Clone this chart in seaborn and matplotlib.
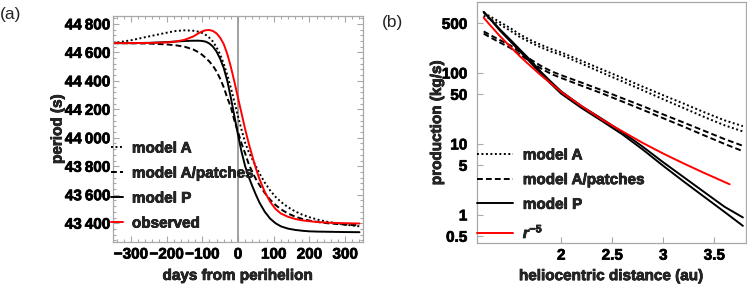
import matplotlib
matplotlib.use('Agg')
import matplotlib.pyplot as plt
import matplotlib.ticker as mticker
import matplotlib.patheffects as pe
from matplotlib.text import Text
import seaborn as sns

# ---- panel (a): rotation period vs days from perihelion ----
days = [-350, -300, -250, -200, -175, -150, -125, -110, -100, -90, -80, -70, -60,
        -50, -40, -30, -20, -10, 0, 10, 20, 30, 40, 50, 60, 75, 90, 105, 120,
        140, 160, 180, 200, 225, 250, 300, 340]

period_model_a = [44665, 44685, 44712, 44738, 44750, 44755, 44752, 44745, 44736, 44722,
                  44702, 44675, 44635, 44585, 44520, 44440, 44350, 44250, 44150, 44055,
                  43965, 43900, 43850, 43800, 43750, 43685, 43630, 43585, 43550, 43512,
                  43483, 43460, 43442, 43424, 43410, 43390, 43378]
period_model_a_patches = [44665, 44664, 44662, 44656, 44650, 44640, 44620, 44600, 44582,
                          44560, 44535, 44505, 44465, 44415, 44355, 44280, 44215, 44120,
                          44040, 43960, 43890, 43815, 43760, 43710, 43668, 43612, 43565,
                          43528, 43498, 43468, 43446, 43430, 43418, 43408, 43400, 43390,
                          43385]
period_model_p = [44665, 44665, 44667, 44672, 44676, 44680, 44682, 44682, 44680, 44675,
                  44662, 44640, 44605, 44555, 44490, 44400, 44280, 44150, 44020, 43900,
                  43800, 43725, 43660, 43600, 43545, 43480, 43432, 43400, 43378, 43362,
                  43353, 43347, 43343, 43341, 43340, 43338, 43337]
period_observed = [44665, 44665, 44666, 44670, 44676, 44688, 44712, 44735, 44748, 44756,
                   44757, 44750, 44733, 44703, 44658, 44588, 44497, 44392, 44280, 44170,
                   44060, 43960, 43870, 43785, 43710, 43620, 43550, 43500, 43468, 43445,
                   43430, 43420, 43414, 43408, 43404, 43400, 43398]

period_ticks = [43400, 43600, 43800, 44000, 44200, 44400, 44600, 44800]
day_ticks = [-300, -200, -100, 0, 100, 200, 300]

# ---- panel (b): production vs heliocentric distance (two branches per model) ----
r_model = [1.24, 1.3, 1.4, 1.5, 1.6, 1.7, 1.8, 1.9, 2.0, 2.2, 2.4, 2.6, 2.8, 3.0,
           3.2, 3.4, 3.6, 3.78]
prod_a_1 = [700, 630, 520, 430, 345, 290, 250, 218, 195, 148, 112, 85, 64, 48.5,
            37, 28, 21.5, 17.8]
prod_a_2 = [640, 580, 480, 395, 318, 268, 230, 200, 180, 135, 101, 76, 57, 42.5,
            32, 24, 18.3, 15.0]
prod_ap_1 = [385, 345, 290, 245, 195, 155, 126, 106, 93, 73, 57, 44, 34, 26,
             20, 15.3, 11.7, 9.4]
prod_ap_2 = [358, 320, 268, 226, 180, 143, 116, 97, 85, 66, 51.5, 39.5, 30.2, 23,
             17.5, 13.2, 10.0, 7.9]
prod_p_1 = [725, 590, 410, 295, 210, 150, 104, 75, 55, 34, 22.5, 14.6, 9.1, 5.5,
            3.4, 2.1, 1.3, 0.92]
prod_p_2 = [725, 580, 395, 280, 198, 140, 97, 70, 51, 32, 21, 13.6, 8.3, 4.9,
            2.95, 1.8, 1.1, 0.70]
r_power = [1.24, 1.3, 1.4, 1.5, 1.6, 1.7, 1.8, 1.9, 2.0, 2.2, 2.4, 2.6, 2.8, 3.0,
           3.2, 3.4, 3.65]
prod_power = [603, 477, 330, 235, 169, 125, 93, 71, 54, 34, 22, 15, 10.3, 7.3,
              5.3, 3.9, 2.7]

prod_ticks = [0.5, 1, 5, 10, 50, 100, 500]
prod_labels = ['0.5', '1', '5', '10', '50', '100', '500']
r_ticks = [2, 2.5, 3, 3.5]
r_labels = ['2', '2.5', '3', '3.5']

sns.set_theme(style='ticks')
plt.rcParams['font.family'] = ['Liberation Sans', 'DejaVu Sans']
plt.rcParams['font.weight'] = 'bold'
plt.rcParams['mathtext.fontset'] = 'custom'
plt.rcParams['mathtext.it'] = 'Liberation Sans:bold:italic'
plt.rcParams['mathtext.rm'] = 'Liberation Sans:bold'

FS = 11
FRAME = '#a8a8a8'
DOT = (0, (1, 1.3))
DASH = (0, (3, 1.6))
LW = 1.4

fig = plt.figure(figsize=(7.47, 2.86), dpi=100)
ax1 = fig.add_axes([0.1513, 0.1538, 0.3347, 0.790])
ax2 = fig.add_axes([0.6386, 0.150, 0.3600, 0.843])

# panel (a)
ax1.axvline(0, color='#9a9a9a', lw=1.3, zorder=1)
sns.lineplot(x=days, y=period_model_a, ax=ax1, color='black', lw=LW, linestyle=DOT,
             label='model A', legend=False)
sns.lineplot(x=days, y=period_model_a_patches, ax=ax1, color='black', lw=LW,
             linestyle=DASH, label='model A/patches', legend=False)
sns.lineplot(x=days, y=period_model_p, ax=ax1, color='black', lw=LW, linestyle='-',
             label='model P', legend=False)
sns.lineplot(x=days, y=period_observed, ax=ax1, color='#ff0000', lw=LW, linestyle='-',
             label='observed', legend=False)

ax1.set_xlim(-350, 350)
ax1.set_ylim(43268, 44855)
ax1.set_xticks(day_ticks)
ax1.set_yticks(period_ticks)
ax1.xaxis.set_minor_locator(mticker.MultipleLocator(20))
ax1.yaxis.set_minor_locator(mticker.MultipleLocator(40))
ax1.yaxis.set_major_formatter(
    mticker.FuncFormatter(lambda v, p: f'{int(round(v)):,}'.replace(',', '\u2009')))
ax1.tick_params(which='both', direction='in', top=True, right=True, color=FRAME,
                labelsize=FS, width=0.8)
ax1.tick_params(which='major', length=4.5)
ax1.tick_params(which='minor', length=2.2)
ax1.tick_params(axis='y', pad=2)
ax1.tick_params(axis='x', pad=4)
ax1.set_xlabel('days from perihelion', fontsize=FS, fontweight='bold')
ax1.set_ylabel('period (s)', fontsize=FS, fontweight='bold')
ax1.xaxis.set_label_coords(0.5, -0.119)
ax1.yaxis.set_label_coords(-0.194, 0.5)
ax1.legend(loc='upper left', bbox_to_anchor=(111 / 747, 0.505),
           bbox_transform=fig.transFigure, frameon=False, fontsize=FS,
           handlelength=0.78, handletextpad=0.59, labelspacing=0.72,
           borderpad=0, borderaxespad=0)

# panel (b)
ax2.set_yscale('log')
branches = [
    (prod_a_1, r_model, 'black', DOT, 'model A'),
    (prod_a_2, r_model, 'black', DOT, None),
    (prod_ap_1, r_model, 'black', DASH, 'model A/patches'),
    (prod_ap_2, r_model, 'black', DASH, None),
    (prod_p_1, r_model, 'black', '-', 'model P'),
    (prod_p_2, r_model, 'black', '-', None),
    (prod_power, r_power, '#ff0000', '-', '$r^{-5}$'),
]
for yv, xv, col, ls, lab in branches:
    sns.lineplot(x=xv, y=yv, ax=ax2, color=col, lw=LW, linestyle=ls,
                 label=lab if lab else '_nolegend_', legend=False)

ax2.set_xlim(1.175, 3.81)
ax2.set_ylim(0.4, 1000)
ax2.set_xticks(r_ticks)
ax2.set_xticklabels(r_labels)
ax2.set_yticks(prod_ticks)
ax2.set_yticklabels(prod_labels)
ax2.yaxis.set_minor_locator(mticker.NullLocator())
ax2.tick_params(which='both', direction='in', color=FRAME, labelsize=FS,
                width=0.8, length=4.5)
ax2.tick_params(axis='y', pad=7)
ax2.tick_params(axis='x', pad=4)
ax2.set_xlabel('heliocentric distance (au)', fontsize=FS, fontweight='bold')
ax2.set_ylabel('production (kg/s)', fontsize=FS, fontweight='bold')
ax2.xaxis.set_label_coords(0.5, -0.108)
ax2.yaxis.set_label_coords(-0.123, 0.5)
ax2.legend(loc='upper left', bbox_to_anchor=(477 / 747, 0.481),
           bbox_transform=fig.transFigure, frameon=False, fontsize=FS,
           handlelength=2.35, handletextpad=0.65, labelspacing=0.70,
           borderpad=0, borderaxespad=0)

for ax in (ax1, ax2):
    for sp in ax.spines.values():
        sp.set_visible(True)
        sp.set_color(FRAME)
        sp.set_linewidth(0.9)
    for lab in ax.get_xticklabels() + ax.get_yticklabels():
        lab.set_fontweight('bold')
        lab.set_color('black')

fig.text(0.0, 1 - 15 / 286, '(a)', fontsize=12.5, fontweight='normal', va='center')
fig.text(382 / 747, 1 - 22.5 / 286, '(b)', fontsize=12.5, fontweight='normal', va='center')

# heavier strokes, closer to the reference's bold type
for t in fig.findobj(Text):
    if t.get_fontweight() in ('bold', 700):
        t.set_path_effects([pe.withStroke(linewidth=0.5, foreground='black')])

fig.savefig('out.png', dpi=100)
